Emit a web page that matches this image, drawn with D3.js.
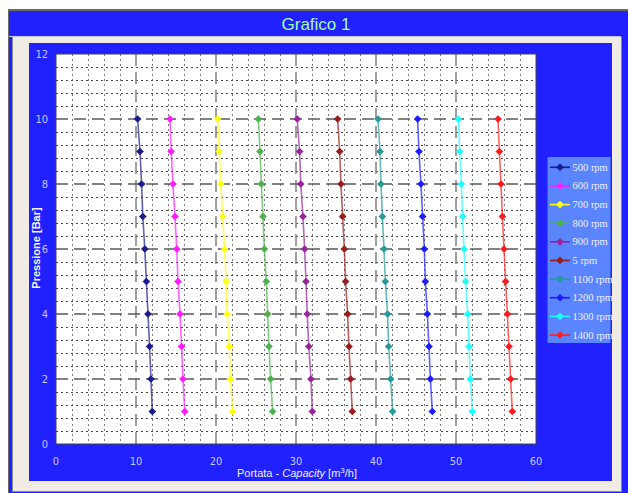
<!DOCTYPE html>
<html><head><meta charset="utf-8">
<script src="https://cdn.jsdelivr.net/npm/d3@7"></script>
<style>html,body{margin:0;padding:0;background:#fff;overflow:hidden}svg{display:block}</style>
</head><body>
<script>
const seriesNames = ["500 rpm","600 rpm","700 rpm","800 rpm","900 rpm","5 rpm","1100 rpm","1200 rpm","1300 rpm","1400 rpm"];
const seriesColors = ["#1c1c8e","#ff1cff","#ffff14","#4cb34c","#9a249a","#9a1c1c","#249a9a","#1c1cff","#1cffff","#ff1c1c"];
const pressures = [10,9,8,7,6,5,4,3,2,1];
const cap500  = [10.2,10.5,10.7,10.85,11.1,11.3,11.5,11.7,11.87,12.04];
const cap600  = [14.25,14.4,14.62,14.87,15.1,15.25,15.5,15.7,15.87,16.1];
const cap700  = [20.2,20.4,20.6,20.83,21.08,21.25,21.4,21.67,21.8,22.08];
const cap800  = [25.3,25.5,25.67,25.87,26.04,26.29,26.46,26.62,26.83,27.08];
const cap900  = [30.15,30.45,30.6,30.87,31.08,31.25,31.4,31.6,31.87,32.04];
const cap5    = [35.2,35.46,35.62,35.83,36.04,36.2,36.45,36.62,36.83,37.04];
const cap1100 = [40.25,40.5,40.62,40.8,41.0,41.17,41.45,41.58,41.83,42.08];
const cap1200 = [45.2,45.37,45.62,45.83,46.04,46.17,46.42,46.62,46.8,47.04];
const cap1300 = [50.3,50.46,50.67,50.83,51.0,51.2,51.46,51.62,51.8,52.04];
const cap1400 = [55.25,55.42,55.62,55.8,56.0,56.2,56.42,56.62,56.83,57.04];
const capacities = [cap500,cap600,cap700,cap800,cap900,cap5,cap1100,cap1200,cap1300,cap1400];
const xTicks = [0,10,20,30,40,50,60];
const yTicks = [0,2,4,6,8,10,12];

const W=628,H=493, BLUE="#2121ff";
const svg=d3.select("body").append("svg").attr("width",W).attr("height",H);

// window frame
svg.append("rect").attr("x",0).attr("y",0).attr("width",W).attr("height",H).attr("fill","#fff");
svg.append("rect").attr("x",8).attr("y",9).attr("width",W-8).attr("height",H-9).attr("fill","#6a6a6a");
svg.append("rect").attr("x",9).attr("y",11).attr("width",W-9).attr("height",H-11).attr("fill",BLUE);
svg.append("line").attr("x1",9).attr("x2",621).attr("y1",36.5).attr("y2",36.5).attr("stroke","#c8c8e8");
svg.append("rect").attr("x",12).attr("y",37).attr("width",610).attr("height",455).attr("fill","#8a8a8a");
svg.append("rect").attr("x",13).attr("y",37).attr("width",608).attr("height",454).attr("fill","#f0ece4");
svg.append("text").attr("x",316).attr("y",30).attr("text-anchor","middle")
  .attr("font-family","Liberation Sans, Arial, sans-serif").attr("font-size",17)
  .attr("fill","#a6ffa6").text("Grafico 1");

// chart area
svg.append("rect").attr("x",29).attr("y",43).attr("width",583).attr("height",438).attr("fill",BLUE);

const x=d3.scaleLinear().domain([0,60]).range([56,536]);
const y=d3.scaleLinear().domain([0,12]).range([444,54]);

svg.append("rect").attr("x",x(0)).attr("y",y(12)).attr("width",x(60)-x(0)).attr("height",y(0)-y(12)).attr("fill","#fff");

const g=svg.append("g");
// minor grid
const xMinor=d3.range(2,60,2).filter(v=>v%10!==0);
const yMinor=d3.range(1,30).map(i=>+(i*0.4).toFixed(1)).filter(v=>Math.abs(v/2-Math.round(v/2))>1e-6);
g.selectAll(".vx").data(xMinor).join("line").attr("x1",d=>Math.round(x(d))+0.5).attr("x2",d=>Math.round(x(d))+0.5)
  .attr("y1",y(12)).attr("y2",y(0)).attr("stroke","#7a7a7a").attr("stroke-dasharray","2,3");
g.selectAll(".hy").data(yMinor).join("line").attr("y1",d=>Math.round(y(d))+0.5).attr("y2",d=>Math.round(y(d))+0.5)
  .attr("x1",x(0)).attr("x2",x(60)).attr("stroke","#444").attr("stroke-dasharray","2,3");
// major grid
g.selectAll(".mx").data([10,20,30,40,50]).join("line").attr("x1",d=>x(d)).attr("x2",d=>x(d))
  .attr("y1",y(12)).attr("y2",y(0)).attr("stroke","#888").attr("stroke-width",1.6).attr("stroke-dasharray","12,6");
g.selectAll(".my").data([2,4,6,8,10]).join("line").attr("y1",d=>y(d)).attr("y2",d=>y(d))
  .attr("x1",x(0)).attr("x2",x(60)).attr("stroke","#5a5a5a").attr("stroke-width",1.5).attr("stroke-dasharray","12,6");
// border
svg.append("rect").attr("x",x(0)).attr("y",y(12)).attr("width",x(60)-x(0)).attr("height",y(0)-y(12))
  .attr("fill","none").attr("stroke","#444").attr("stroke-width",1);

// axes tick labels
const tickFont="Liberation Sans Narrow, DejaVu Sans Condensed, Arial Narrow, sans-serif";
svg.append("g").selectAll("text").data(yTicks).join("text").attr("x",48).attr("y",d=>y(d)+4)
  .attr("text-anchor","end").attr("font-family",tickFont).attr("font-size",11).attr("fill","#c4c4ff").text(d=>d);
svg.append("g").selectAll("text").data(xTicks).join("text").attr("x",d=>x(d)).attr("y",465)
  .attr("text-anchor","middle").attr("font-family",tickFont).attr("font-size",11).attr("fill","#c4c4ff").text(d=>d);

// axis titles
const xt=svg.append("text").attr("x",297).attr("y",477).attr("text-anchor","middle")
  .attr("font-family","Liberation Sans, Arial, sans-serif").attr("font-size",11).attr("fill","#eeeeff");
xt.append("tspan").text("Portata - ");
xt.append("tspan").attr("font-style","italic").text("Capacity");
xt.append("tspan").text("  [m");
xt.append("tspan").attr("font-size",8).attr("dy",-4).text("3");
xt.append("tspan").attr("dy",4).text("/h]");
svg.append("text").attr("transform","translate(40,248) rotate(-90)").attr("text-anchor","middle")
  .attr("font-family","Liberation Sans, Arial, sans-serif").attr("font-size",11).attr("font-weight","bold")
  .attr("fill","#f4f4ff").text("Pressione [Bar]");

// series
const line=d3.line().x(d=>x(d[0])).y(d=>y(d[1]));
const sym=d3.symbol().type(d3.symbolSquare).size(30);
capacities.forEach((caps,i)=>{
  const pts=caps.map((c,j)=>[c,pressures[j]]);
  svg.append("path").attr("d",line(pts)).attr("fill","none").attr("stroke",seriesColors[i])
    .attr("stroke-width",1.6).attr("stroke-opacity",0.7);
  svg.append("g").selectAll("path").data(pts).join("path").attr("d",sym)
    .attr("transform",d=>`translate(${x(d[0])},${y(d[1])}) rotate(45)`).attr("fill",seriesColors[i]);
});

// legend
const lg=svg.append("g");
lg.append("rect").attr("x",547.5).attr("y",157).attr("width",63).attr("height",186).attr("fill","#5b84ff");
const ly=d3.scalePoint().domain(seriesNames).range([167.3,335]);
seriesNames.forEach((n,i)=>{
  const yy=ly(n);
  lg.append("line").attr("x1",550).attr("x2",570).attr("y1",yy).attr("y2",yy).attr("stroke",seriesColors[i]).attr("stroke-width",1.6);
  lg.append("path").attr("d",sym).attr("transform",`translate(560,${yy}) rotate(45)`).attr("fill",seriesColors[i]);
  lg.append("text").attr("x",572.5).attr("y",yy+3.5).attr("font-family","Liberation Serif, Times New Roman, serif")
    .attr("font-size",10.5).attr("fill","#eef0ff").text(n);
});
</script>
</body></html>
